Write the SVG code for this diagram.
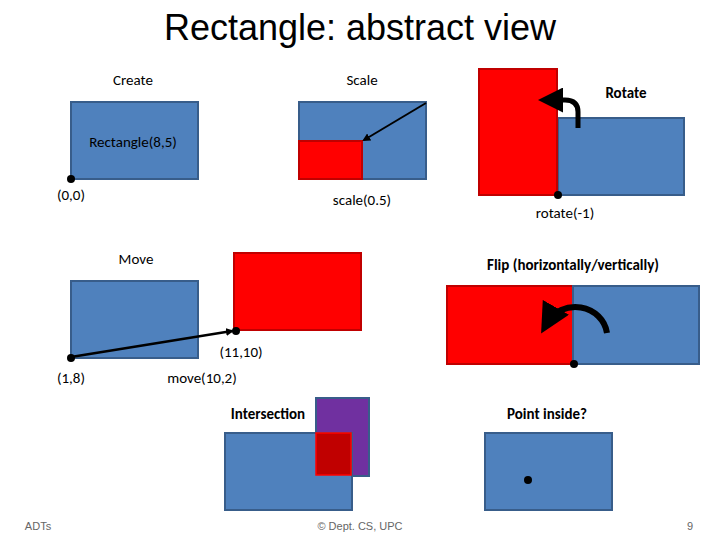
<svg xmlns="http://www.w3.org/2000/svg" width="720" height="540" viewBox="0 0 720 540">
<style>
text{font-family:"Liberation Sans",Arial,sans-serif;fill:#000}
.t{font-family:Carlito,"Liberation Sans",sans-serif;font-size:15px;text-anchor:middle}
.b{font-weight:bold}
.blue{fill:#4f81bd;stroke:#385d8a;stroke-width:2}
.red{fill:#ff0000;stroke:#c00000;stroke-width:2}
.f{font-size:11px;fill:#666;text-anchor:middle}
</style>
<defs>
<marker id="ah" markerWidth="8" markerHeight="8" refX="6" refY="4" orient="auto" markerUnits="userSpaceOnUse"><path d="M0,0 L8,4 L0,8 Z" fill="#000"/></marker>
<marker id="bh" markerWidth="5" markerHeight="5" refX="3" refY="2.5" orient="auto"><path d="M0,0 L5,2.5 L0,5 Z" fill="#000"/></marker>
</defs>
<text x="360" y="40" font-size="36" text-anchor="middle">Rectangle: abstract view</text>
<g id="create">
<rect class="blue" x="71" y="102" width="127" height="77"/>
<circle cx="71" cy="179" r="4"/>
<text class="t" x="133" y="85">Create</text>
<text class="t" x="133" y="147">Rectangle(8,5)</text>
<text class="t" x="71" y="200">(0,0)</text>
</g>
<g id="scale">
<rect class="blue" x="299" y="102" width="127" height="77"/>
<rect class="red" x="299" y="141" width="63" height="38"/>
<text class="t" x="362" y="85">Scale</text>
<text class="t" x="362" y="205">scale(0.5)</text>
</g>
<g id="rotate">
<rect class="blue" x="558" y="118" width="126" height="77"/>
<rect class="red" x="479" y="69" width="78" height="126"/>
<circle cx="558" cy="195" r="4"/>
<text class="t b" x="626" y="98">Rotate</text>
<text class="t" x="565" y="218">rotate(-1)</text>
</g>
<g id="move">
<rect class="blue" x="71" y="281" width="127" height="77"/>
<rect class="red" x="234" y="253" width="127" height="77"/>
<circle cx="71" cy="358" r="4"/>
<circle cx="236" cy="331" r="4"/>
<text class="t" x="136" y="264">Move</text>
<text class="t" x="241" y="357">(11,10)</text>
<text class="t" x="71" y="383">(1,8)</text>
<text class="t" x="202" y="383">move(10,2)</text>
</g>
<g id="flip">
<rect class="red" x="447" y="286" width="126" height="78"/>
<rect class="blue" x="573" y="286" width="126" height="78"/>
<circle cx="574" cy="364" r="4"/>
<text class="t b" x="573" y="270">Flip (horizontally/vertically)</text>
</g>
<g id="intersection">
<rect fill="#7030a0" stroke="#385d8a" stroke-width="2" x="316" y="398" width="53" height="78"/>
<rect class="blue" x="225" y="433" width="127" height="77"/>
<rect fill="#c00000" stroke="#ff0000" stroke-width="1.5" x="316" y="433" width="35" height="42"/>
<text class="t b" x="268" y="419">Intersection</text>
</g>
<g id="pointinside">
<rect class="blue" x="485" y="433" width="127" height="77"/>
<circle cx="528" cy="480" r="4"/>
<text class="t b" x="547" y="419">Point inside?</text>
</g>
<g id="connectors" fill="none" stroke="#000">
<line x1="426" y1="103" x2="364" y2="140" stroke-width="2" marker-end="url(#ah)"/>
<line x1="71" y1="357" x2="232" y2="331" stroke-width="2.5" marker-end="url(#ah)"/>
<path d="M578,128 L578,112 Q578,100 565,100 L548,100" stroke-width="5" marker-end="url(#bh)"/>
<path d="M607,333 A32,30 0 0 0 547,323" stroke-width="6" marker-end="url(#bh)"/>
</g>
<text class="f" x="38" y="530">ADTs</text>
<text class="f" x="360" y="530">© Dept. CS, UPC</text>
<text class="f" x="690" y="530">9</text>
</svg>
